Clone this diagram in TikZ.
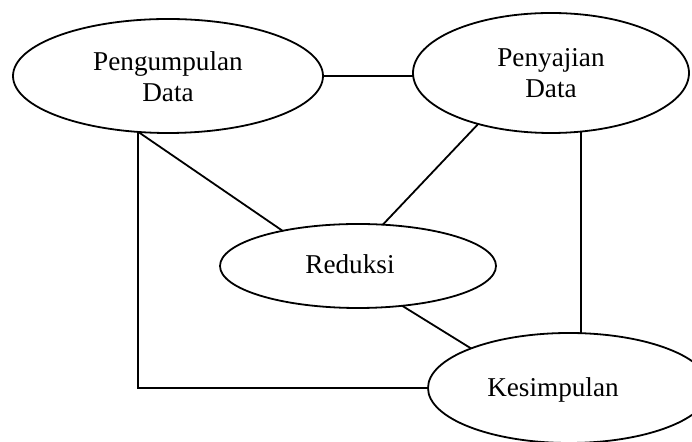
\documentclass[tikz,border=0pt]{standalone}
\usepackage{fontspec}
\setmainfont{Liberation Serif}
\usetikzlibrary{shapes.geometric}
\begin{document}
\begin{tikzpicture}[x=0.5pt,y=-0.5pt,
  oval/.style={draw=black, line width=0.9pt, ellipse, inner sep=0pt, outer sep=0pt},
  lbl/.style={align=center, font=\fontsize{13.6}{15.5}\selectfont, inner sep=0pt},
  conn/.style={draw=black, line width=0.9pt}]
\clip (0,0) rectangle (692,442);
\fill[white] (0,0) rectangle (692,442);
\node[oval, minimum width=155pt, minimum height=57pt] (p) at (168,76) {};
\node[oval, minimum width=138pt, minimum height=60pt] (s) at (551,73) {};
\node[oval, minimum width=138pt, minimum height=42pt] (r) at (358,266) {};
\node[oval, minimum width=141pt, minimum height=55pt] (k) at (569,388) {};
\node[lbl] (pt) at (168,77) {Pengumpulan\\Data};
\node[lbl] (st) at (551,73) {Penyajian\\Data};
\node[lbl] (rt) at (350,264) {Reduksi};
\node[lbl] (kt) at (553,390) {Kesimpulan};
\path[conn] (p.east) -- (p.east -| s.west);
\path[conn] (p.-118) -- (r.155);
\path[conn] (p.-118) |- (k.west);
\path[conn] (s.-145) -- (r.59);
\path[conn] (s.-63) -- (s.-63 |- k.north);
\path[conn] (r.-42) -- (k.158);
\end{tikzpicture}
\end{document}
